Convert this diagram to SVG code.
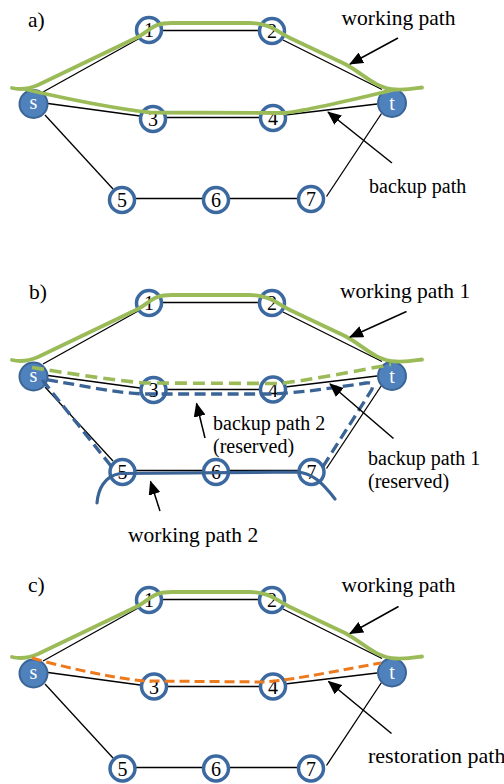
<svg xmlns="http://www.w3.org/2000/svg" width="504" height="784" viewBox="0 0 504 784">
  <style>
    .edge { stroke: #000; stroke-width: 1.3; fill: none; }
    .ring { fill: #fff; stroke: #3D69A1; stroke-width: 3.5; }
    .term { fill: #4F81BD; stroke: #3A6595; stroke-width: 2; }
    .num { font-family: "Liberation Serif", "Times New Roman", serif; font-size: 20px; fill: #000; text-anchor: middle; }
    .tnum { font-family: "Liberation Serif", "Times New Roman", serif; font-size: 20px; fill: #fff; text-anchor: middle; }
    .lbl { font-family: "Liberation Serif", "Times New Roman", serif; font-size: 21.5px; fill: #000; }
    .lbl-s { font-family: "Liberation Serif", "Times New Roman", serif; font-size: 20px; fill: #000; }
    .lbl-l { font-family: "Liberation Serif", "Times New Roman", serif; font-size: 22px; fill: #000; }
    .green { stroke: #9BBB59; stroke-width: 3.8; fill: none; stroke-linecap: round; }
    .green-dash { stroke: #9BBB59; stroke-width: 3.6; fill: none; stroke-dasharray: 12 6; }
    .blue { stroke: #3A6396; stroke-width: 3.2; fill: none; stroke-linecap: round; }
    .blue-dash { stroke: #3A6396; stroke-width: 3.3; fill: none; stroke-dasharray: 11 5.5; }
    .orange-dash { stroke: #EE7A1E; stroke-width: 3; fill: none; stroke-dasharray: 10 5; }
    .pointer { stroke: #000; stroke-width: 1.5; fill: none; marker-end: url(#head); }
  </style>
  <defs>
    <marker id="head" markerUnits="userSpaceOnUse" markerWidth="14" markerHeight="12" viewBox="0 0 14 12" refX="13" refY="6" orient="auto">
      <path d="M0,0 L14,6 L0,12 Z" fill="#000"/>
    </marker>
  </defs>

  <!-- ===== panel a ===== -->
  <g id="panel-a">
    <g id="a-links">
      <line class="edge" x1="43" y1="92" x2="140" y2="38"/>
      <line class="edge" x1="162" y1="30.5" x2="260" y2="30.5"/>
      <line class="edge" x1="283" y1="40" x2="382" y2="89.5"/>
      <line class="edge" x1="48" y1="103.5" x2="140" y2="116"/>
      <line class="edge" x1="166" y1="117.5" x2="260" y2="117.5"/>
      <line class="edge" x1="285" y1="115" x2="377" y2="104"/>
      <line class="edge" x1="45" y1="115" x2="113" y2="189"/>
      <line class="edge" x1="134" y1="198.5" x2="204" y2="198.5"/>
      <line class="edge" x1="228" y1="198.5" x2="299" y2="198.5"/>
      <line class="edge" x1="326.5" y1="196.5" x2="381.5" y2="113.5"/>
    </g>
    <g id="a-n1"><circle class="ring" cx="149" cy="30" r="12.5"/><text class="num" x="149" y="37">1</text></g>
    <g id="a-n2"><circle class="ring" cx="272" cy="31" r="12.5"/><text class="num" x="272" y="38">2</text></g>
    <g id="a-n3"><circle class="ring" cx="153" cy="119" r="12.5"/><text class="num" x="153" y="126">3</text></g>
    <g id="a-n4"><circle class="ring" cx="273" cy="118" r="12.5"/><text class="num" x="273" y="125">4</text></g>
    <g id="a-n5"><circle class="ring" cx="122" cy="200" r="12.5"/><text class="num" x="122" y="207">5</text></g>
    <g id="a-n6"><circle class="ring" cx="216" cy="200" r="12.5"/><text class="num" x="216" y="207">6</text></g>
    <g id="a-n7"><circle class="ring" cx="311" cy="199" r="12.5"/><text class="num" x="311" y="206">7</text></g>
    <g id="a-s"><circle class="term" cx="33.5" cy="104" r="14"/><text class="tnum" x="33.5" y="109">s</text></g>
    <g id="a-t"><circle class="term" cx="392" cy="103" r="14"/><text class="tnum" x="392" y="109.5">t</text></g>
    <g id="a-paths">
      <path class="green" d="M12,88 Q24,91 38,85 L138,37 C152,29 153,23 172,23 L250,23 C268,23 275,30 290,38 L345,64 C364,74 376,89 396,89.5 C408,90 415,88.5 422,87.5"/>
      <path class="green" d="M26,89.5 C50,95 110,108 150,112.5 L285,113 C310,110 360,98 393,90"/>
    </g>
    <g id="a-labels">
      <text class="lbl" x="28" y="27">a)</text>
      <text class="lbl" x="341.5" y="25">working path</text>
      <text class="lbl-s" x="369" y="193">backup path</text>
      <line class="pointer" x1="398" y1="38" x2="350" y2="64"/>
      <line class="pointer" x1="392" y1="163" x2="328" y2="112"/>
    </g>
  </g>

  <!-- ===== panel b ===== -->
  <g id="panel-b">
    <g id="b-links" transform="translate(0,272)">
      <line class="edge" x1="43" y1="92" x2="140" y2="38"/>
      <line class="edge" x1="162" y1="30.5" x2="260" y2="30.5"/>
      <line class="edge" x1="283" y1="40" x2="382" y2="89.5"/>
      <line class="edge" x1="48" y1="103.5" x2="140" y2="116"/>
      <line class="edge" x1="166" y1="117.5" x2="260" y2="117.5"/>
      <line class="edge" x1="285" y1="115" x2="377" y2="104"/>
      <line class="edge" x1="45" y1="115" x2="113" y2="189"/>
      <line class="edge" x1="134" y1="198.5" x2="204" y2="198.5"/>
      <line class="edge" x1="228" y1="198.5" x2="299" y2="198.5"/>
      <line class="edge" x1="326.5" y1="196.5" x2="381.5" y2="113.5"/>
    </g>
    <g transform="translate(0,272)">
      <g id="b-n1"><circle class="ring" cx="149" cy="31" r="12.5"/><text class="num" x="149" y="38">1</text></g>
      <g id="b-n2"><circle class="ring" cx="272" cy="31" r="12.5"/><text class="num" x="272" y="38">2</text></g>
      <g id="b-n3"><circle class="ring" cx="153.5" cy="118" r="12.5"/><text class="num" x="153.5" y="125">3</text></g>
      <g id="b-n4"><circle class="ring" cx="273" cy="117.5" r="12.5"/><text class="num" x="273" y="124.5">4</text></g>
      <g id="b-n5"><circle class="ring" cx="122.5" cy="200" r="12.5"/><text class="num" x="122.5" y="207">5</text></g>
      <g id="b-n6"><circle class="ring" cx="216" cy="200" r="12.5"/><text class="num" x="216" y="207">6</text></g>
      <g id="b-n7"><circle class="ring" cx="311.5" cy="200" r="12.5"/><text class="num" x="311.5" y="207">7</text></g>
      <g id="b-s"><circle class="term" cx="33.5" cy="104.5" r="14"/><text class="tnum" x="33.5" y="109.5">s</text></g>
      <g id="b-t"><circle class="term" cx="392" cy="104" r="14"/><text class="tnum" x="392" y="110.5">t</text></g>
      <g id="b-paths">
        <path class="green" d="M12,88 Q24,91 38,85 L138,37 C152,29 153,23 172,23 L250,23 C268,23 275,30 290,38 L345,64 C364,74 376,89 396,89.5 C408,90 415,88.5 422,87.5"/>
        <path class="green-dash" d="M32,95.5 C60,100 110,108 145,111 L280,111.5 C310,108 350,100 391,92.5"/>
        <path class="blue-dash" d="M111,194 L44,110 C41,106 43,106 48,108 C80,113 115,121 145,122 L270,122 C300,121 340,115 366,111 C373,110 374,114 371,119 L322,196"/>
        <path class="blue" d="M97,231 C98,218 104,204 120,201.5 L297,200 C312,201 322,210 335,227"/>
      </g>
    </g>
    <g id="b-labels">
      <text class="lbl" x="29" y="299">b)</text>
      <text class="lbl" x="340" y="298">working path 1</text>
      <text class="lbl-s" x="213" y="430">backup path 2</text>
      <text class="lbl-s" x="213" y="453">(reserved)</text>
      <text class="lbl-s" x="368" y="465">backup path 1</text>
      <text class="lbl-s" x="368" y="488">(reserved)</text>
      <text class="lbl" x="128" y="541.5">working path 2</text>
      <line class="pointer" x1="406.5" y1="311.5" x2="350" y2="337"/>
      <line class="pointer" x1="205" y1="438" x2="196.5" y2="403.5"/>
      <line class="pointer" x1="393.5" y1="438.5" x2="330" y2="384"/>
      <line class="pointer" x1="160" y1="511" x2="150.5" y2="481.5"/>
    </g>
  </g>

  <!-- ===== panel c ===== -->
  <g id="panel-c">
    <g id="c-links" transform="translate(0,569)">
      <line class="edge" x1="43" y1="92" x2="140" y2="38"/>
      <line class="edge" x1="162" y1="30.5" x2="260" y2="30.5"/>
      <line class="edge" x1="283" y1="40" x2="382" y2="89.5"/>
      <line class="edge" x1="48" y1="103.5" x2="140" y2="116"/>
      <line class="edge" x1="166" y1="117.5" x2="260" y2="117.5"/>
      <line class="edge" x1="285" y1="115" x2="377" y2="104"/>
      <line class="edge" x1="45" y1="115" x2="113" y2="189"/>
      <line class="edge" x1="134" y1="198.5" x2="204" y2="198.5"/>
      <line class="edge" x1="228" y1="198.5" x2="299" y2="198.5"/>
      <line class="edge" x1="326.5" y1="196.5" x2="381.5" y2="113.5"/>
    </g>
    <g transform="translate(0,569)">
      <g id="c-n1"><circle class="ring" cx="149" cy="31" r="12.5"/><text class="num" x="149" y="38">1</text></g>
      <g id="c-n2"><circle class="ring" cx="272" cy="31" r="12.5"/><text class="num" x="272" y="38">2</text></g>
      <g id="c-n3"><circle class="ring" cx="154" cy="117.5" r="12.5"/><text class="num" x="154" y="124.5">3</text></g>
      <g id="c-n4"><circle class="ring" cx="273" cy="117.5" r="12.5"/><text class="num" x="273" y="124.5">4</text></g>
      <g id="c-n5"><circle class="ring" cx="122.5" cy="199.5" r="12.5"/><text class="num" x="122.5" y="206.5">5</text></g>
      <g id="c-n6"><circle class="ring" cx="216" cy="199.5" r="12.5"/><text class="num" x="216" y="206.5">6</text></g>
      <g id="c-n7"><circle class="ring" cx="311" cy="199.5" r="12.5"/><text class="num" x="311" y="206.5">7</text></g>
      <g id="c-s"><circle class="term" cx="33.5" cy="104.5" r="14"/><text class="tnum" x="33.5" y="109.5">s</text></g>
      <g id="c-t"><circle class="term" cx="392" cy="103.5" r="14"/><text class="tnum" x="392" y="110">t</text></g>
      <g id="c-paths">
        <path class="green" d="M12,88 Q24,91 38,85 L138,37 C152,29 153,23 172,23 L250,23 C268,23 275,30 290,38 L345,64 C364,74 376,89 396,89.5 C408,90 415,88.5 422,87.5"/>
        <path class="orange-dash" d="M32,89 C60,97 110,109 145,112 L265,113 C300,110 345,100 381,94"/>
      </g>
    </g>
    <g id="c-labels">
      <text class="lbl" x="28" y="592">c)</text>
      <text class="lbl" x="341.5" y="592">working path</text>
      <text class="lbl-l" x="368" y="763">restoration path</text>
      <line class="pointer" x1="398.5" y1="606.5" x2="350" y2="633.5"/>
      <line class="pointer" x1="391.5" y1="733.5" x2="328.5" y2="681.5"/>
    </g>
  </g>
</svg>
